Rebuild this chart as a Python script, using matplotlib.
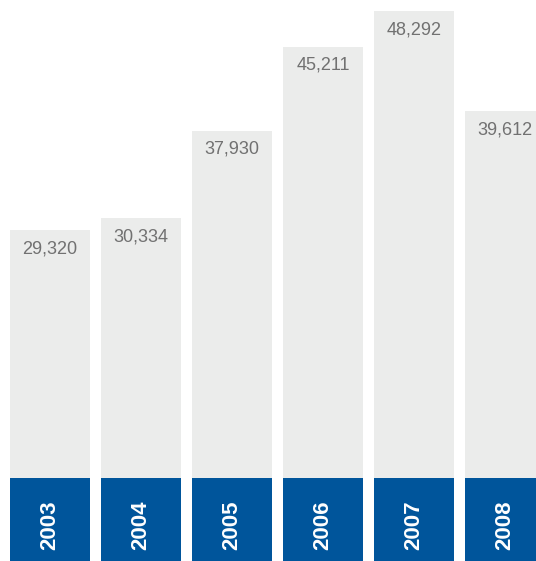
import matplotlib
matplotlib.use('Agg')
import matplotlib.pyplot as plt
import numpy as np

# chart data
years = ['2003', '2004', '2005', '2006', '2007', '2008']
values = [29320, 30334, 37930, 45211, 48292, 39612]

BAR_GRAY = '#ebeceb'
BAND_BLUE = '#00559b'
LABEL_GRAY = '#717171'
BAND_TOP = 7830  # height of the blue year band, in data units

plt.rcParams['font.family'] = ['Liberation Sans', 'DejaVu Sans']

fig = plt.figure(figsize=(5.36, 5.61), dpi=100)
ax = fig.add_axes([0, 0, 1, 1])

x = np.arange(len(years))
width = 0.879

ax.bar(x, values, width=width, color=BAR_GRAY, linewidth=0)
ax.bar(x, [BAND_TOP] * len(years), width=width, color=BAND_BLUE, linewidth=0)

for xi, v, yr in zip(x, values, years):
    ax.annotate(f"{v:,}", xy=(xi, v), xytext=(0, -7.5), textcoords='offset points',
                ha='center', va='top', fontsize=13, color=LABEL_GRAY)
    ax.text(xi, 3760, yr, rotation=90, ha='center', va='center',
            fontsize=16, fontweight='bold', color='white')

ax.set_xlim(-0.549, 5.341)
ax.set_ylim(641, 49242)
ax.axis('off')

fig.savefig('out.png', dpi=100)
plt.close(fig)
